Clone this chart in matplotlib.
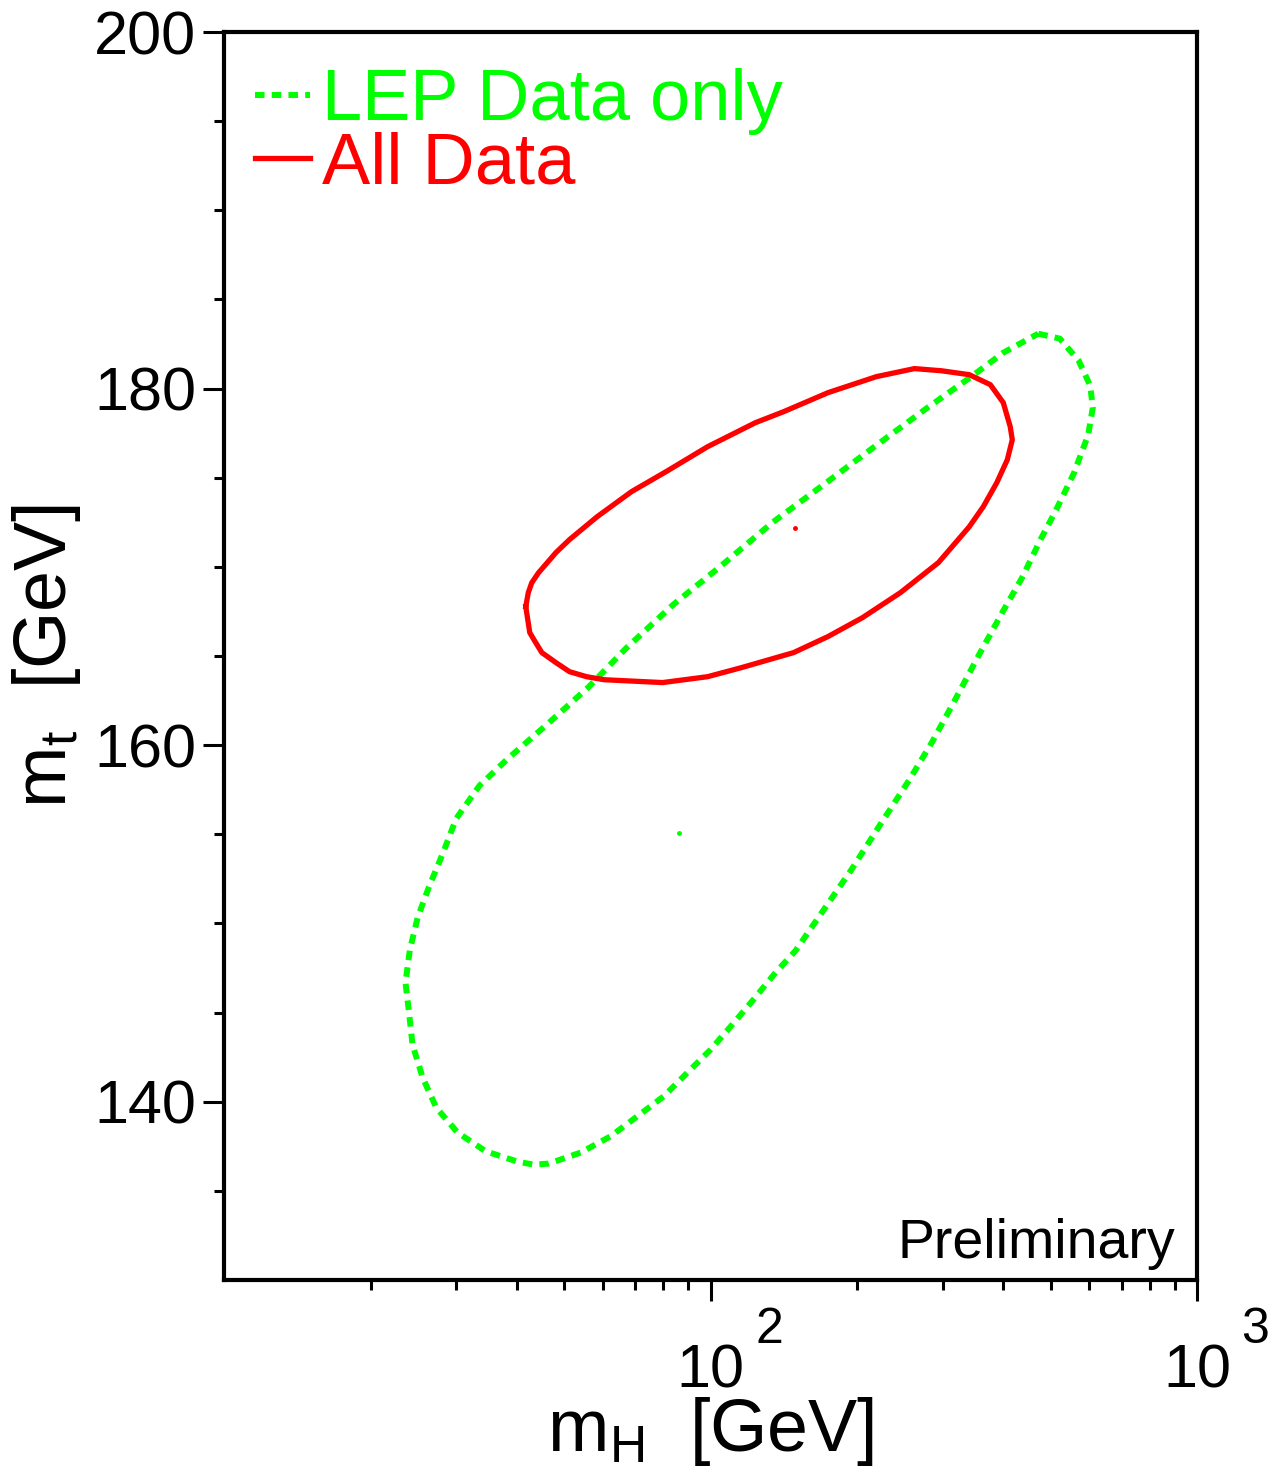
import matplotlib
matplotlib.use("Agg")
import matplotlib.pyplot as plt
from matplotlib.ticker import FixedLocator, FixedFormatter, NullFormatter
import numpy as np

plt.rcParams['font.family'] = ['Liberation Sans', 'DejaVu Sans']
plt.rcParams['mathtext.fontset'] = 'custom'
plt.rcParams['mathtext.rm'] = 'Liberation Sans'
plt.rcParams['mathtext.it'] = 'Liberation Sans'

# "All Data" contour (mH, mt) in GeV
all_mh = [41.7, 42.2, 42.9, 44.3, 48.1, 51.3, 58.5, 68.8, 81.0, 98.6, 123.7, 141.2,
          174.3, 219.2, 262.4, 298.1, 340.2, 375.8, 399.6, 413.0, 417.0, 407.3, 387.5,
          363.6, 340.2, 294.0, 245.5, 205.2, 174.3, 148.1, 115.8, 98.6, 79.7, 60.4,
          55.6, 51.3, 48.1, 45.0, 43.6, 42.5]
all_mt = [167.77, 168.55, 169.11, 169.67, 170.80, 171.53, 172.82, 174.22, 175.34, 176.74,
          178.09, 178.70, 179.77, 180.67, 181.12, 181.00, 180.78, 180.22, 179.21, 177.86,
          177.13, 176.01, 174.72, 173.38, 172.25, 170.24, 168.55, 167.15, 166.09, 165.19,
          164.35, 163.84, 163.51, 163.67, 163.84, 164.12, 164.63, 165.19, 165.80, 166.31]

# "LEP Data only" contour
lep_mh = [471.6, 522.4, 571.1, 603.0, 610.4, 597.3, 558.2, 511.1, 477.7, 436.8, 399.6,
          356.8, 319.5, 285.7, 255.6, 223.4, 195.7, 171.1, 149.5, 136.0, 122.5, 110.8,
          100.0, 89.6, 80.1, 70.7, 62.3, 54.1, 46.5, 43.3, 40.1, 34.5, 30.2, 27.3, 25.6,
          24.4, 24.0, 23.6, 24.1, 25.0, 26.4, 28.1, 30.0, 33.5, 38.3, 45.8, 56.1, 66.9,
          83.8, 104.7, 133.9, 171.1, 218.7, 279.5, 342.0, 399.6]
lep_mt = [183.08, 182.80, 181.56, 180.16, 178.93, 177.41, 175.25, 173.10, 171.58, 169.39,
          167.54, 165.10, 162.64, 160.20, 158.01, 155.56, 153.10, 150.79, 148.47, 147.24,
          145.73, 144.32, 142.92, 141.63, 140.30, 139.18, 138.06, 137.15, 136.53, 136.47,
          136.64, 137.22, 138.27, 139.67, 141.35, 143.20, 145.00, 146.68, 148.53, 150.33,
          152.08, 153.86, 155.88, 157.73, 159.24, 161.09, 163.25, 165.41, 167.88, 170.02,
          172.48, 174.63, 176.80, 178.94, 180.63, 182.01]

# best fit points
all_best = [148.8, 172.2]
lep_best = [86.1, 155.1]

x_major = [100, 1000]
x_major_base = ['10', '10']
x_major_exp = ['2', '3']
x_minor = [20, 30, 40, 50, 60, 70, 80, 90, 200, 300, 400, 500, 600, 700, 800, 900]
y_major = [140, 160, 180, 200]
y_minor = [135, 145, 150, 155, 165, 170, 175, 185, 190, 195]

green = '#00ff00'
red = '#ff0000'

fig = plt.figure(figsize=(12.81, 14.75), dpi=100)
ax = fig.add_axes([0.1749, 0.1322, 0.7596, 0.8461])

lep_line, = ax.plot(lep_mh + lep_mh[:1], lep_mt + lep_mt[:1], color=green, lw=4.3,
                    linestyle=(0, (1.6, 1.2)), label='LEP Data only')
all_line, = ax.plot(all_mh + all_mh[:1], all_mt + all_mt[:1], color=red, lw=3.8,
                    label='All Data', solid_joinstyle='round')
ax.plot([lep_best[0]], [lep_best[1]], 'o', color=green, ms=2.5)
ax.plot([all_best[0]], [all_best[1]], 'o', color=red, ms=2.5)

ax.set_xscale('log')
ax.set_xlim(10, 1000)
ax.set_ylim(130, 200)

ax.xaxis.set_major_locator(FixedLocator(x_major))
ax.xaxis.set_major_formatter(FixedFormatter(x_major_base))
ax.xaxis.set_minor_locator(FixedLocator(x_minor))
ax.xaxis.set_minor_formatter(NullFormatter())
ax.yaxis.set_major_locator(FixedLocator(y_major))
ax.yaxis.set_minor_locator(FixedLocator(y_minor))
ax.yaxis.set_minor_formatter(NullFormatter())

ax.tick_params(which='both', direction='out', top=False, right=False, width=2.2, labelsize=44)
ax.tick_params(which='major', length=15)
ax.tick_params(which='minor', length=7)
ax.tick_params(axis='y', which='major', pad=5)
ax.tick_params(axis='x', which='major', pad=31)
for s in ax.spines.values():
    s.set_linewidth(3)

# ROOT style exponents, set high above the "10"
for v, e in zip(x_major, x_major_exp):
    ax.annotate(e, xy=(v, 0), xycoords=('data', 'axes fraction'), xytext=(32, -45),
                textcoords='offset points', ha='left', va='baseline', fontsize=36)

ax.set_xlabel(r'$\mathregular{m_{H}}$  [GeV]', fontsize=53, labelpad=-4)
ax.set_ylabel(r'$\mathregular{m_{t}}$  [GeV]', fontsize=53, labelpad=8)

ax.legend(handles=[lep_line, all_line], loc='upper left', bbox_to_anchor=(0.032, 0.971),
          frameon=False, fontsize=52, labelcolor='linecolor', handlelength=0.76,
          handletextpad=0.17, labelspacing=-0.05, borderpad=0, borderaxespad=0)

ax.text(0.977, 0.0176, 'Preliminary', transform=ax.transAxes, ha='right', va='baseline',
        fontsize=40)

fig.savefig('out.png', dpi=100)
